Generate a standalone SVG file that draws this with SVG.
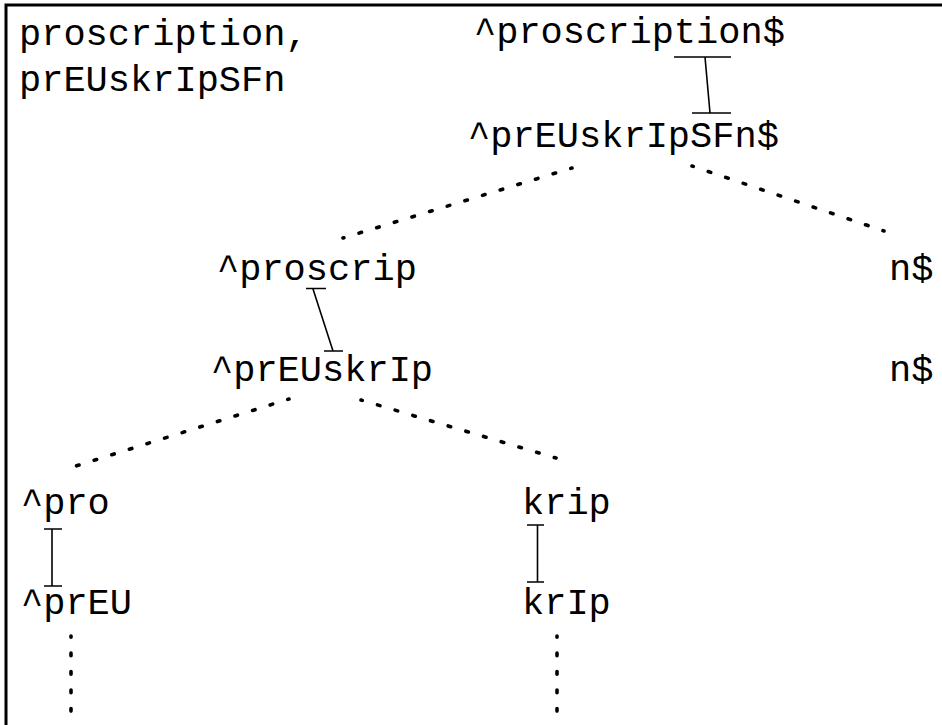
<svg xmlns="http://www.w3.org/2000/svg" width="942" height="725" viewBox="0 0 942 725">
<style>
.t{font-family:"Liberation Mono","Courier New",monospace;font-size:37px;fill:#000}
.s{stroke:#000;stroke-width:1.6;fill:none}
.d{stroke:#000;stroke-width:3.6;fill:none;stroke-linecap:round;stroke-dasharray:2.6 15.85;stroke-dashoffset:1.3}
</style>
<rect x="0" y="0" width="942" height="725" fill="#fff"/>
<path d="M6,725 V5 H942" stroke="#000" stroke-width="3" fill="none"/>
<g id="title"><text class="t" x="19" y="45">proscription,</text><text class="t" x="19" y="91">prEUskrIpSFn</text></g>
<g id="n1"><text class="t" x="474" y="43">^proscription$</text></g>
<g id="n2"><text class="t" x="468" y="147">^prEUskrIpSFn$</text></g>
<g id="n3"><text class="t" x="217" y="280">^proscrip</text></g>
<g id="n4"><text class="t" x="889" y="280">n$</text></g>
<g id="n5"><text class="t" x="211" y="381">^prEUskrIp</text></g>
<g id="n6"><text class="t" x="889" y="381">n$</text></g>
<g id="n7"><text class="t" x="21" y="514">^pro</text></g>
<g id="n8"><text class="t" x="522" y="514">krip</text></g>
<g id="n9"><text class="t" x="21" y="614">^prEU</text></g>
<g id="n10"><text class="t" x="522" y="614">krIp</text></g>
<g id="connectors">
<path class="s" d="M674,57H731M705,57L710,113M692,113H731"/>
<path class="s" d="M306,288.5H326M313,289L333,351M324,351H343"/>
<path class="s" d="M44,529H62M52,529V586M44,586H62"/>
<path class="s" d="M527,525H544M537.5,525V582M527,582H544"/>
<path class="d" d="M572,168L343,238"/>
<path class="d" d="M692,166L884,231"/>
<path class="d" d="M289,399L76,466"/>
<path class="d" d="M361,400L556,458"/>
<path class="d" d="M71,636V725"/>
<path class="d" d="M557,636V725"/>
</g>
</svg>
